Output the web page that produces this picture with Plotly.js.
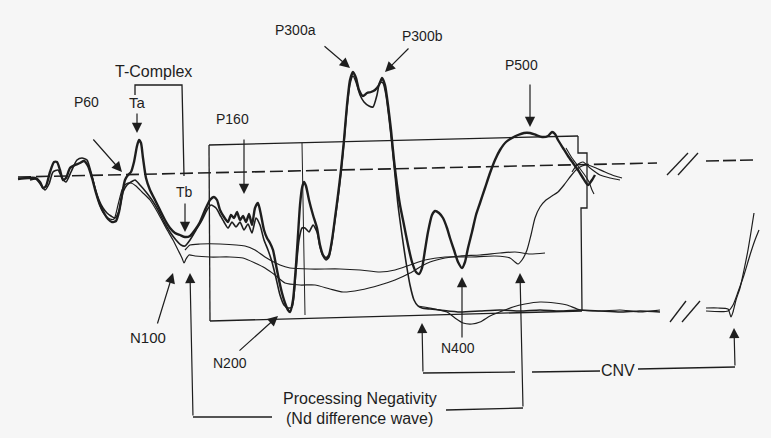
<!DOCTYPE html>
<html>
<head>
<meta charset="utf-8">
<script src="https://cdn.plot.ly/plotly-3.0.1.min.js"></script>
<style>html,body{margin:0;padding:0;background:#f6f6f6;}#chart{width:771px;height:438px;}</style>
</head>
<body>
<div id="chart"></div>
<script>
// ---- Waveform data (x = time position, y = amplitude position in figure units) ----
const attendedX = [18,28,35,40,43,46,50,54,57,60,63,66,70,75,80,84,88,92,96,100,104,108,112,116,119,122,125,128,131,134,137,139,141,143,146,150,155,160,165,170,175,180,185,190,195,200,205,210,214,217,220,224,228,231,234,237,240,243,246,249,252,255,258,261,264,267,270,273,276,279,282,285,288,290,293,296,298,300,302,304,306,309,313,317,320,323,326,329,332,335,338,341,344,347,350,353,356,359,363,367,371,375,379,382,385,388,391,394,397,400,404,408,412,416,419,422,425,428,432,435,439,443,447,450,454,458,462,465,468,472,476,480,485,490,495,500,506,512,518,524,530,536,542,548,552,555,558,563,568,573,578,583,588,592,595];
const attendedY = [179,178,178,182,188,186,172,162,162,170,180,178,168,165,163,161,166,178,193,205,213,219,222,221,212,195,180,175,172,162,146,140,143,158,178,190,200,210,220,228,233,235,237,236,230,222,210,200,197,200,210,217,222,215,218,212,220,216,222,214,225,208,203,215,230,238,243,250,265,280,293,303,310,312,300,265,235,205,188,182,186,200,215,228,245,255,258,255,240,218,195,170,140,105,80,72,78,90,96,93,92,90,85,78,85,105,130,160,185,205,225,245,262,272,274,268,250,232,215,211,213,218,228,238,250,262,268,262,248,232,215,203,188,173,160,150,142,138,135,133,133,135,137,136,132,134,140,148,156,163,170,178,185,180,175];

const secondX = [30,36,41,45,49,53,58,62,66,71,77,82,87,91,95,99,103,107,111,115,119,123,127,131,135,140,146,152,158,164,170,176,181,185,190,196,202,207,211,216,220,224,228,232,236,240,244,248,252,256,260,264,268,272,276,280,284,288,292,296,299,302,305,309,313,317,320,323,326,329,332,335,338,341,344,347,350,353,356,360,364,369,373,377,380,383,386,389,392,395,398,402,406,410,414,418,422,430,440,460,480,500,520,540,560,580,600,620,640,660];
const secondY = [180,179,185,190,184,172,170,178,182,172,160,158,160,172,188,200,208,213,216,218,211,192,185,182,180,185,192,200,210,222,232,240,245,246,240,230,220,210,205,208,215,222,228,222,227,222,230,224,233,218,225,240,250,262,278,295,305,308,307,270,240,228,228,232,225,232,247,256,260,257,242,220,198,172,142,108,84,76,82,95,102,106,107,95,82,83,95,118,145,175,205,235,262,285,300,306,308,309,310,312,311,310,311,310,311,310,311,312,311,312];

const lowerThinX = [88,93,98,104,110,114,118,122,126,131,136,142,150,158,166,173,178,182,184,186,189,195,210,230,243,255,265,275,285,300,315,330,343,360,380,395,410,420,430,445,460,480,500,515,530,545];
const lowerThinY = [165,180,200,214,219,219,205,190,184,183,186,192,200,213,228,240,250,258,263,259,255,256,257,257,258,263,268,275,283,285,285,289,292,290,285,280,273,267,262,258,256,255,253,252,254,253];

const upperThinX = [185,190,200,220,245,255,265,280,290,310,340,360,380,395,410,425,445,470,495,510,515,518,522,527,531,535,540,546,552,558,564,570,576,582,588,596,605,615,622];
const upperThinY = [250,245,244,244,246,250,257,265,268,269,269,270,272,270,265,260,257,257,256,258,262,264,260,250,235,218,207,200,196,192,185,177,170,166,165,168,172,176,178];

const diffX = [418,430,447,455,463,472,480,490,497,505,513,525,540,555,567,580,600,620,640,660];
const diffY = [306,308,312,318,323,324,322,316,313,310,307,304,302,303,305,310,311,310,312,310];

const cnvEndAX = [706,718,728,731,733,736,740,744,748,751,754];
const cnvEndAY = [308,308,309,317,312,300,288,270,250,232,213];
const cnvEndBX = [706,728,733,738,744,750,755,759];
const cnvEndBY = [311,311,305,292,275,255,240,230];

const scribbleAX = [566,572,578,584,589,592,594];
const scribbleAY = [148,158,166,174,182,190,194];
const scribbleBX = [572,577,583,590,600,610,620];
const scribbleBY = [172,165,162,168,175,178,180];

const baselineX = [18,657];
const baselineY = [177,163];
const baselineRightX = [706,754];
const baselineRightY = [161,160];

// ---- Labels ----
const labelTexts = ["T-Complex","P60","Ta","Tb","P160","P300a","P300b","P500","N100","N200","N400","Processing Negativity","(Nd difference wave)","CNV"];

const ink = "#1e1e1e";
function line(x, y, w, dash) {
  return {x: x, y: y, type: "scatter", mode: "lines", hoverinfo: "skip",
          line: {color: ink, width: w, dash: dash || "solid", shape: "spline", smoothing: 0.6}};
}
const traces = [
  line(baselineX, baselineY, 1.6, "13px,5px"),
  line(baselineRightX, baselineRightY, 1.6, "13px,4px"),
  line(lowerThinX, lowerThinY, 1.2),
  line(upperThinX, upperThinY, 1.2),
  line(diffX, diffY, 1.2),
  line(secondX, secondY, 1.6),
  line(attendedX, attendedY, 2.4),
  line(cnvEndAX, cnvEndAY, 1.2),
  line(cnvEndBX, cnvEndBY, 1.2),
  line(scribbleAX, scribbleAY, 1.1),
  line(scribbleBX, scribbleBY, 1.1)
];

function seg(x0, y0, x1, y1, w) {
  return {type: "line", xref: "x", yref: "y", x0: x0, y0: y0, x1: x1, y1: y1,
          line: {color: ink, width: w || 1.3}};
}
function path(p, w) {
  return {type: "path", xref: "x", yref: "y", path: p, line: {color: ink, width: w || 1.3}};
}
const shapes = [
  // box
  seg(209,145,578,136), seg(209,145,210,321), seg(210,321,582,311),
  path("M578,136 L578,153 L587,153 L587,208 L581,208 L582,311"),
  seg(302,143,305,315, 1.0),
  // T-complex bracket
  path("M135,95 L135,85 L182,85 L184,176"),
  // processing negativity bracket
  seg(193,417,272,417), seg(446,410,523,408),
  // CNV bracket
  seg(423,373,515,372), seg(532,372,600,371), seg(638,369,735,367),
  // break marks
  seg(667,175,688,153), seg(678,175,698,153),
  seg(670,322,686,301), seg(682,322,700,301)
];

function arrow(hx, hy, tx, ty) {
  return {x: hx, y: hy, ax: tx, ay: ty, xref: "x", yref: "y", axref: "x", ayref: "y",
          text: "", showarrow: true, arrowhead: 2, arrowsize: 1.7, arrowwidth: 1.2,
          arrowcolor: ink, standoff: 0};
}
function label(t, x, y, s) {
  return {x: x, y: y, xref: "x", yref: "y", text: t, showarrow: false,
          font: {family: "Liberation Sans, Arial, sans-serif", size: s, color: ink}};
}
const annotations = [
  arrow(122,172,92,138),   // P60
  arrow(137,133,137,112),  // Ta
  arrow(185,232,185,202),  // Tb
  arrow(244,194,244,138),  // P160
  arrow(350,68,323,45),    // P300a
  arrow(385,72,410,47),    // P300b
  arrow(530,127,530,83),   // P500
  arrow(173,273,157,325),  // N100
  arrow(190,273,193,417),  // N100 / PN start
  arrow(278,316,238,352),  // N200
  arrow(422,323,423,373),  // CNV start
  arrow(462,277,462,339),  // N400
  arrow(520,273,523,408),  // PN end
  arrow(734,328,735,367),  // CNV end
  label(labelTexts[0],153,71,16),
  label(labelTexts[1],86,102,14),
  label(labelTexts[2],137,102,15),
  label(labelTexts[3],184,192,14),
  label(labelTexts[4],232,119,14),
  label(labelTexts[5],295,30,14),
  label(labelTexts[6],422,36,14),
  label(labelTexts[7],521,65,14),
  label(labelTexts[8],148,337,15),
  label(labelTexts[9],230,363,14),
  label(labelTexts[10],458,348,14),
  label(labelTexts[11],360,398,16),
  label(labelTexts[12],359,418,16),
  label(labelTexts[13],618,370,16)
];

const layout = {
  width: 771, height: 438,
  margin: {l: 0, r: 0, t: 0, b: 0},
  paper_bgcolor: "#f6f6f6", plot_bgcolor: "#f6f6f6",
  showlegend: false,
  xaxis: {range: [0, 771], visible: false, fixedrange: true},
  yaxis: {range: [438, 0], visible: false, fixedrange: true},
  shapes: shapes,
  annotations: annotations
};
Plotly.newPlot("chart", traces, layout, {staticPlot: true, displayModeBar: false});
</script>
</body>
</html>
